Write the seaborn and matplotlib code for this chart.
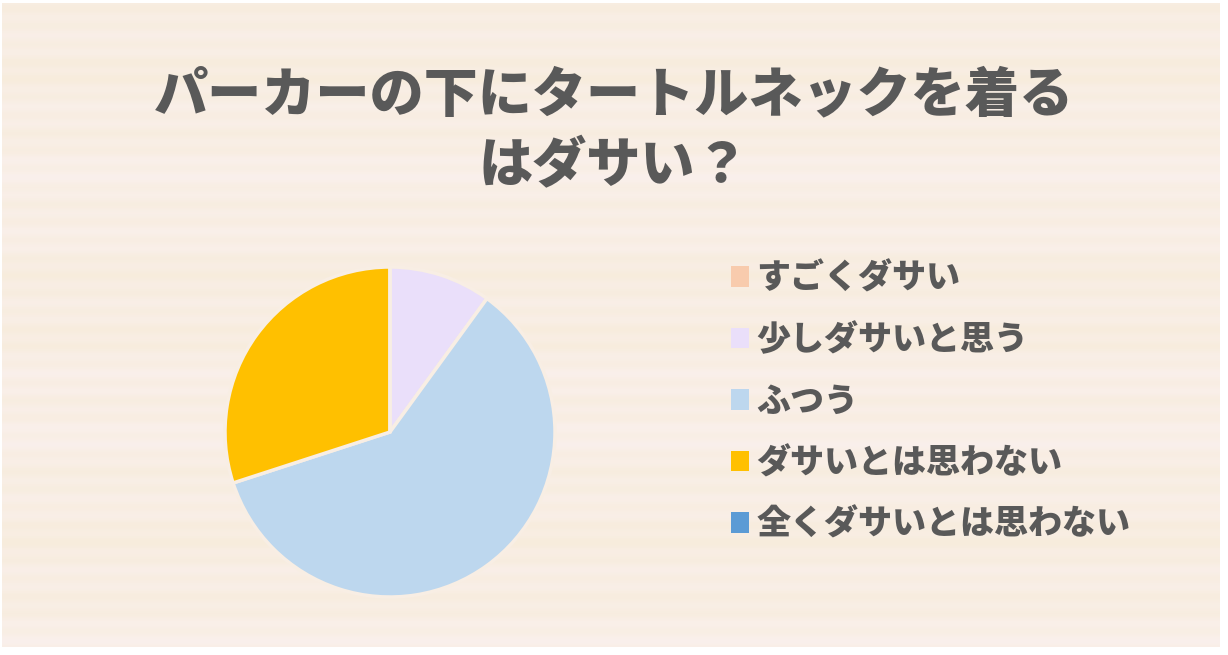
import seaborn as sns
import numpy as np
import matplotlib.pyplot as plt
from matplotlib.patches import Patch

# survey answers (percent)
labels = ['すごくダサい', '少しダサいと思う', 'ふつう', 'ダサいとは思わない', '全くダサいとは思わない']
shares = [0, 10, 60, 30, 0]
colors = ['#F8CBAD', '#EADFFA', '#BDD7EE', '#FFC000', '#5B9BD5']
title = 'パーカーの下にタートルネックを着る\nはダサい？'

sns.set_theme(style='white')
plt.rcParams['font.family'] = ['Noto Sans CJK JP', 'DejaVu Sans']

fig = plt.figure(figsize=(12.28, 6.55), dpi=100)
fig.patch.set_facecolor('white')

# beige wood-ish background panel
bg = fig.add_axes([2 / 1228, 8 / 655, 1218 / 1228, 644 / 655])
rows = np.arange(320)
shade = 0.5 + 0.2 * np.sin(rows * 0.71) + 0.15 * np.sin(rows * 0.19 + 1.3) + 0.15 * np.sin(rows * 0.053)
bg.imshow(shade[:, None], aspect='auto', cmap=sns.blend_palette(['#FAF0EC', '#F7ECDC'], as_cmap=True),
          extent=(0, 1, 0, 1))
bg.set_axis_off()

fig.text(0.5, 0.80, title, ha='center', va='center', fontsize=39, fontweight='black',
         color='#595959', linespacing=1.38)

ax = fig.add_axes([(390 - 165) / 1228, (655 - 432 - 165) / 655, 330 / 1228, 330 / 655])
ax.pie(shares, colors=colors, startangle=90, counterclock=False, radius=1,
       wedgeprops=dict(edgecolor='#F8EEE4', linewidth=2.5))
ax.set_xlim(-1, 1)
ax.set_ylim(-1, 1)
ax.set_aspect('equal')

handles = [Patch(facecolor=c, edgecolor='none') for c in colors]
leg = fig.legend(handles, labels, loc='upper left', bbox_to_anchor=(0.570, 0.649), frameon=False,
                 fontsize=24.5, handlelength=0.55, handleheight=0.55, handletextpad=0.2,
                 labelspacing=0.78)
for t in leg.get_texts():
    t.set_color('#595959')
    t.set_fontweight('black')

fig.savefig('out.png', dpi=100)
